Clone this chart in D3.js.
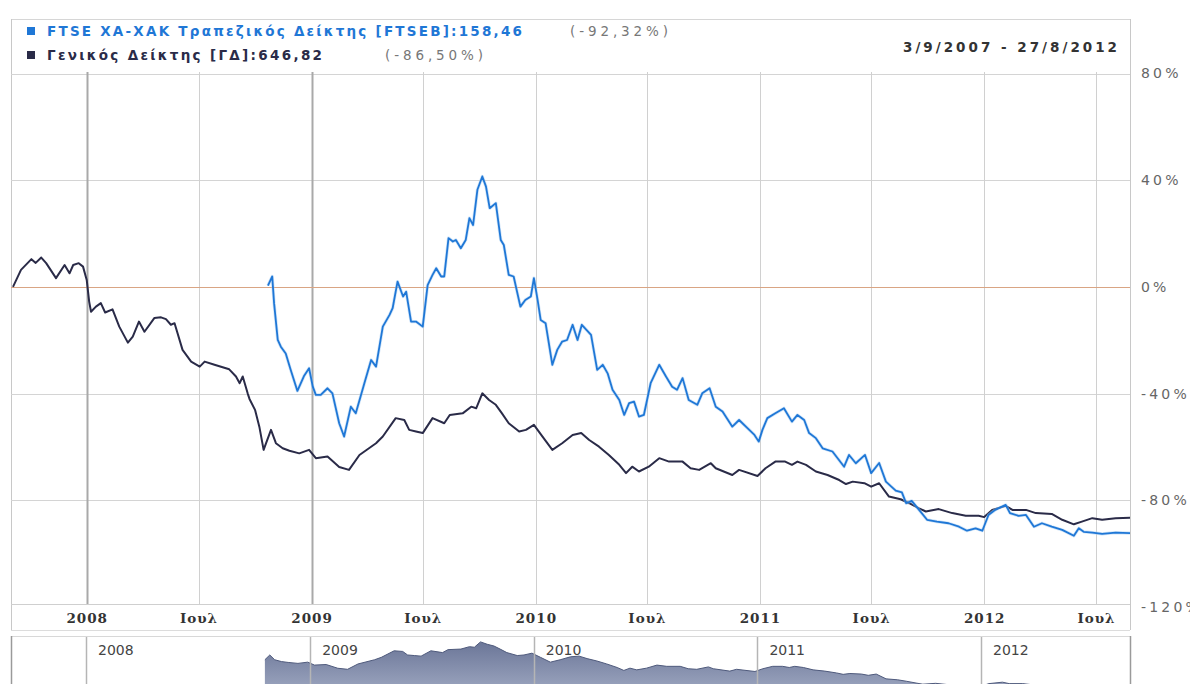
<!DOCTYPE html>
<html><head><meta charset="utf-8">
<script src="https://cdn.jsdelivr.net/npm/d3@7"></script>
<style>body{margin:0;background:#fff;overflow:hidden} svg{display:block}</style>
</head><body>
<svg id="c" width="1190" height="684"></svg>
<script>
// ---------------- DATA ----------------
const gdDates = ["2007-09-03","2007-09-16","2007-10-03","2007-10-10","2007-10-19","2007-10-27","2007-11-12","2007-11-26","2007-12-04","2007-12-10","2007-12-19","2007-12-26",
"2008-01-01","2008-01-05","2008-01-08","2008-01-16","2008-01-24","2008-01-31","2008-02-12","2008-02-23","2008-03-08","2008-03-16","2008-03-26","2008-04-04","2008-04-20","2008-05-01","2008-05-09","2008-05-17","2008-05-23","2008-06-05","2008-06-19","2008-07-03","2008-07-11","2008-07-27","2008-08-20","2008-08-31","2008-09-06","2008-09-11","2008-09-19","2008-09-22","2008-10-01","2008-10-08","2008-10-15","2008-10-19","2008-10-27","2008-11-04","2008-11-15","2008-11-26","2008-12-12","2008-12-28",
"2009-01-08","2009-01-27","2009-02-15","2009-03-03","2009-03-20","2009-04-16","2009-04-27","2009-05-18","2009-06-01","2009-06-09","2009-06-20","2009-07-01","2009-07-17","2009-08-05","2009-08-14","2009-09-04","2009-09-18","2009-09-26","2009-10-06","2009-10-17","2009-10-28","2009-11-07","2009-11-18","2009-12-05","2009-12-16","2009-12-29",
"2010-01-12","2010-01-28","2010-02-13","2010-03-02","2010-03-16","2010-03-29","2010-04-14","2010-04-30","2010-05-17","2010-05-28","2010-06-07","2010-06-18","2010-07-04","2010-07-21","2010-08-06","2010-08-28","2010-09-10","2010-09-24","2010-10-13","2010-10-21","2010-11-17","2010-11-28","2010-12-28",
"2011-01-10","2011-01-26","2011-02-11","2011-02-22","2011-03-03","2011-03-17","2011-04-02","2011-04-21","2011-05-10","2011-05-21","2011-06-01","2011-06-20","2011-07-01","2011-07-14","2011-07-30","2011-08-18","2011-09-01","2011-09-17","2011-09-28","2011-10-19","2011-11-10","2011-12-02","2011-12-23",
"2012-01-01","2012-01-14","2012-02-05","2012-02-16","2012-03-09","2012-03-25","2012-04-20","2012-05-07","2012-05-26","2012-06-08","2012-06-25","2012-07-11","2012-08-02","2012-08-27"];
const gdValues = [0,6.4,10.4,9,11,8.9,3.3,8.2,5.1,8.2,8.9,7.6,
2.6,-5.5,-9.3,-7.4,-6.1,-9.6,-8.4,-14.9,-20.9,-18.6,-13,-16.8,-11.7,-11.4,-12.1,-14.2,-13.6,-23.6,-28,-29.9,-28,-29.2,-30.9,-33.6,-36.1,-33.6,-39.9,-42,-46.1,-52.4,-61.1,-58.6,-53.6,-58.6,-60.5,-61.4,-62.4,-61.1,
-64.2,-63.6,-67.5,-68.6,-63,-58.6,-56.1,-49.2,-49.9,-53.6,-54.2,-54.8,-49.2,-51.1,-48,-47.4,-44.9,-45.5,-39.9,-42.4,-44.2,-47.4,-51.1,-54.2,-53.6,-51.7,
-56.1,-61.1,-58.6,-55.5,-54.8,-57.4,-59.9,-63,-66.7,-69.8,-67.4,-69.2,-67.4,-64.2,-65.5,-65.5,-68,-68.6,-66.1,-68,-70.5,-68.6,-70.9,
-68,-65.5,-65.5,-66.7,-65.5,-66.7,-69.2,-70.5,-72.4,-73.9,-73,-73.6,-74.9,-73.6,-78.6,-79.6,-81.1,-83,-84.2,-83.3,-84.8,-85.8,-85.8,
-86.3,-83.6,-82.1,-83.6,-83.6,-84.8,-85.1,-87.3,-89,-88,-86.7,-87.3,-86.7,-86.5];

const ftsebDates = ["2008-10-22","2008-10-29","2008-11-01","2008-11-07","2008-11-12","2008-11-20","2008-11-28","2008-12-09","2008-12-20","2008-12-28",
"2009-01-03","2009-01-08","2009-01-16","2009-01-27","2009-02-04","2009-02-15","2009-02-23","2009-03-06","2009-03-14","2009-03-28","2009-04-08","2009-04-16","2009-04-27","2009-05-08","2009-05-13","2009-05-21","2009-05-30","2009-06-04","2009-06-12","2009-06-20","2009-07-01","2009-07-09","2009-07-17","2009-07-23","2009-07-31","2009-08-05","2009-08-12","2009-08-19","2009-08-24","2009-09-01","2009-09-09","2009-09-15","2009-09-21","2009-09-28","2009-10-06","2009-10-12","2009-10-18","2009-10-28","2009-11-05","2009-11-10","2009-11-18","2009-11-26","2009-12-07","2009-12-15","2009-12-24","2009-12-29",
"2010-01-04","2010-01-09","2010-01-17","2010-01-28","2010-02-05","2010-02-13","2010-02-21","2010-03-02","2010-03-10","2010-03-17","2010-04-01","2010-04-11","2010-04-20","2010-04-28","2010-05-06","2010-05-17","2010-05-25","2010-06-02","2010-06-10","2010-06-18","2010-06-26","2010-07-07","2010-07-21","2010-08-01","2010-08-11","2010-08-19","2010-08-28","2010-09-07","2010-09-21","2010-09-29","2010-10-11","2010-10-21","2010-11-01","2010-11-17","2010-11-28","2010-12-12","2010-12-23","2010-12-30",
"2011-01-05","2011-01-13","2011-01-26","2011-02-09","2011-02-22","2011-03-03","2011-03-14","2011-03-22","2011-04-02","2011-04-13","2011-04-29","2011-05-18","2011-05-26","2011-06-06","2011-06-21","2011-07-01","2011-07-14","2011-07-25","2011-08-10","2011-08-20","2011-08-27","2011-09-05","2011-09-17","2011-09-30","2011-10-16","2011-11-04","2011-11-21","2011-12-04","2011-12-18","2011-12-29",
"2012-01-08","2012-01-19","2012-02-05","2012-02-12","2012-02-26","2012-03-09","2012-03-22","2012-04-04","2012-04-20","2012-05-07","2012-05-26","2012-06-03","2012-06-11","2012-06-25","2012-07-11","2012-08-02","2012-08-27"];
const ftsebValues = [0.5,3.9,-6.1,-19.9,-22.4,-25,-31.1,-39,-33.3,-30.5,
-37.4,-40.5,-40.5,-38,-39.9,-51.1,-56.1,-44.9,-47.4,-36.1,-27.4,-29.9,-14.9,-10.5,-8,2,-3.6,-1.8,-13,-13,-14.9,0.7,4.5,7,3.9,3.9,18.3,17,17.6,14.5,17.6,25.8,23.2,36.4,41.4,37.6,29.5,31.4,17.6,15.7,4.5,3.9,-7.4,-4.9,-3.6,3.3,
-4.9,-12.4,-13.6,-29.2,-23.6,-20.5,-19.9,-14.2,-19.9,-14.2,-18,-31.1,-29.2,-32.4,-38.6,-42.4,-48,-43.6,-43,-48.6,-48,-36.1,-29.2,-33.6,-37.4,-38.6,-34.2,-42.4,-44.2,-39.9,-38,-44.9,-46.7,-52.4,-49.9,-53,-55.5,-58,
-53.6,-49.2,-47.4,-45.5,-50.5,-48,-49.9,-54.8,-56.7,-60.5,-61.7,-67.4,-63,-66.1,-63,-69.8,-66,-73,-76.4,-77,-81.1,-80.2,-83.6,-87.3,-88,-88.6,-89.9,-91.4,-90.5,-91.4,
-85.5,-83.6,-81.7,-84.8,-85.8,-85.5,-89.9,-88.6,-89.9,-91.1,-93.3,-90.5,-91.8,-92.1,-92.6,-92.1,-92.3];

const yTicks = [80, 40, 0, -40, -80, -120];
const yTickLabels = ["80%", "40%", "0%", "-40%", "-80%", "-120%"];
const xTickDates = ["2008-01-01","2008-07-01","2009-01-01","2009-07-01","2010-01-01","2010-07-01","2011-01-01","2011-07-01","2012-01-01","2012-07-01"];
const xTickLabels = ["2008","Ιουλ","2009","Ιουλ","2010","Ιουλ","2011","Ιουλ","2012","Ιουλ"];
const navYearDates = ["2008-01-01","2009-01-01","2010-01-01","2011-01-01","2012-01-01"];
const navYearLabels = ["2008","2009","2010","2011","2012"];
const legendNames = ["FTSE ΧΑ-ΧΑΚ Τραπεζικός Δείκτης [FTSEB]:158,46", "Γενικός Δείκτης [ΓΔ]:646,82"];
const legendChanges = ["(-92,32%)", "(-86,50%)"];
const legendColors = ["#1f77d6", "#2a2b48"];
const dateRangeLabel = "3/9/2007 - 27/8/2012";
const rangeStart = "2007-09-03", rangeEnd = "2012-08-27";

// ---------------- CHART ----------------
const parse = d3.timeParse("%Y-%m-%d");
const svg = d3.select("#c");
const L = 11, R = 1130, T = 72, B = 604;

const x = d3.scaleTime().domain([parse(rangeStart), parse(rangeEnd)]).range([13, 1131]);
const y = d3.scaleLinear().domain([-120, 80]).range([607, 73.5]);
const xn = d3.scaleTime().domain([parse(rangeStart), parse(rangeEnd)]).range([12.5, 1127.4]);
const yn = d3.scaleLinear().domain([-40, -84]).range([642, 684]);

const gd = gdDates.map((d, i) => ({date: parse(d), v: gdValues[i]}));
const fb = ftsebDates.map((d, i) => ({date: parse(d), v: ftsebValues[i]}));

svg.append("defs").append("clipPath").attr("id", "plotclip")
  .append("rect").attr("x", L).attr("y", T).attr("width", R - L).attr("height", B - T);

// outer frame
svg.append("line").attr("x1", L).attr("x2", R).attr("y1", 19.5).attr("y2", 19.5).attr("stroke", "#d6d6d6");
svg.append("line").attr("x1", L + 0.5).attr("x2", L + 0.5).attr("y1", 19).attr("y2", 630).attr("stroke", "#c8c8c8");
svg.append("line").attr("x1", R + 0.5).attr("x2", R + 0.5).attr("y1", 19).attr("y2", 630).attr("stroke", "#c8c8c8");

// horizontal grid
svg.append("g").selectAll("line").data(yTicks.filter(v => v !== 0 && v !== -120)).join("line")
  .attr("x1", L).attr("x2", R).attr("y1", d => Math.round(y(d)) + 0.5).attr("y2", d => Math.round(y(d)) + 0.5)
  .attr("stroke", "#d4d4d4");

// vertical grid
const xTicks = xTickDates.map(parse);
svg.append("g").selectAll("line").data(xTicks).join("line")
  .attr("x1", d => Math.round(x(d)) + 0.5).attr("x2", d => Math.round(x(d)) + 0.5)
  .attr("y1", T).attr("y2", B)
  .attr("stroke", (d, i) => (i === 0 || i === 2) ? "#a9a9a9" : "#d0d0d0")
  .attr("stroke-width", (d, i) => (i === 0 || i === 2) ? 2 : 1);

// zero line
svg.append("line").attr("x1", L).attr("x2", R).attr("y1", Math.round(y(0)) + 0.5).attr("y2", Math.round(y(0)) + 0.5)
  .attr("stroke", "#d9a584").attr("stroke-width", 1.2);

// lines
const line = d3.line().x(d => x(d.date)).y(d => y(d.v));
const pg = svg.append("g").attr("clip-path", "url(#plotclip)");
pg.append("path").datum(gd).attr("d", line).attr("fill", "none").attr("stroke", "#2a2b48").attr("stroke-width", 2).attr("stroke-linejoin", "round");
pg.append("path").datum(fb).attr("d", line).attr("fill", "none").attr("stroke", "#9fcaf2").attr("stroke-width", 3.2).attr("stroke-opacity", 0.5).attr("stroke-linejoin", "round");
pg.append("path").datum(fb).attr("d", line).attr("fill", "none").attr("stroke", "#1f77d6").attr("stroke-width", 1.8).attr("stroke-linejoin", "round");

// x axis band
svg.append("line").attr("x1", L).attr("x2", R).attr("y1", B + 0.5).attr("y2", B + 0.5).attr("stroke", "#cfcfcf");
svg.append("line").attr("x1", L).attr("x2", R).attr("y1", 630.5).attr("y2", 630.5).attr("stroke", "#dcdcdc");
const xAxis = d3.axisBottom(x).tickValues(xTicks).tickSize(0).tickPadding(9)
  .tickFormat((d, i) => xTickLabels[i]);
const xg = svg.append("g").attr("transform", `translate(0,${B})`).call(xAxis);
xg.select(".domain").remove();
xg.selectAll("text").attr("font-family", "'DejaVu Serif', serif").attr("font-weight", "bold")
  .attr("font-size", 13.5).attr("fill", "#333").attr("letter-spacing", 1);

// y axis labels (right)
const yAxis = d3.axisRight(y).tickValues(yTicks).tickSize(0).tickPadding(0)
  .tickFormat((d, i) => yTickLabels[i]);
const yg = svg.append("g").attr("transform", `translate(1141,0)`).call(yAxis);
yg.select(".domain").remove();
yg.selectAll("text").attr("font-family", "'DejaVu Sans', sans-serif").attr("font-size", 14)
  .attr("fill", "#666").attr("letter-spacing", 3.2);

// legend
const lg = svg.append("g");
const legY = [36, 60];
const nameW = [475, 275];
const chgX = [570, 385];
legendNames.forEach((n, i) => {
  lg.append("rect").attr("x", 27).attr("y", legY[i] - 9).attr("width", 8).attr("height", 8).attr("fill", legendColors[i]);
  lg.append("text").attr("x", 47).attr("y", legY[i]).text(n)
    .attr("font-family", "'DejaVu Sans', Verdana, sans-serif").attr("font-weight", "bold").attr("font-size", 13.5)
    .attr("fill", legendColors[i]).attr("textLength", nameW[i]).attr("lengthAdjust", "spacing");
  lg.append("text").attr("x", chgX[i]).attr("y", legY[i]).text(legendChanges[i])
    .attr("font-family", "'DejaVu Sans', Verdana, sans-serif").attr("font-size", 13.5)
    .attr("fill", "#777").attr("textLength", 98).attr("lengthAdjust", "spacing");
});
svg.append("text").attr("x", 903).attr("y", 52).text(dateRangeLabel)
  .attr("font-family", "'DejaVu Sans', Verdana, sans-serif").attr("font-weight", "bold").attr("font-size", 13.5)
  .attr("fill", "#333").attr("textLength", 214).attr("lengthAdjust", "spacing");

// navigator
const ng = svg.append("g");
ng.append("line").attr("x1", L).attr("x2", R).attr("y1", 636.5).attr("y2", 636.5).attr("stroke", "#d8d8d8");
ng.append("line").attr("x1", L + 0.5).attr("x2", L + 0.5).attr("y1", 636).attr("y2", 684).attr("stroke", "#9a9a9a").attr("stroke-width", 1.5);
ng.append("line").attr("x1", R + 0.5).attr("x2", R + 0.5).attr("y1", 636).attr("y2", 684).attr("stroke", "#9a9a9a").attr("stroke-width", 1.5);
const grad = svg.select("defs").append("linearGradient").attr("id", "navgrad").attr("x1", 0).attr("x2", 0).attr("y1", 0).attr("y2", 1);
grad.append("stop").attr("offset", "0%").attr("stop-color", "#6b7698");
grad.append("stop").attr("offset", "100%").attr("stop-color", "#a5aec6");
const navStart = parse(ftsebDates[0]);
const navData = gd.filter(d => d.date >= d3.timeDay.offset(navStart, -3));
const area = d3.area().x(d => xn(d.date)).y0(700).y1(d => yn(d.v));
ng.append("path").datum(navData).attr("d", area).attr("fill", "url(#navgrad)");
ng.append("path").datum(navData).attr("d", d3.line().x(d => xn(d.date)).y(d => yn(d.v)))
  .attr("fill", "none").attr("stroke", "#4f5a7c").attr("stroke-width", 1);
const navTicks = navYearDates.map(parse);
ng.selectAll("line.ny").data(navTicks).join("line").attr("class", "ny")
  .attr("x1", d => Math.round(xn(d)) + 0.5).attr("x2", d => Math.round(xn(d)) + 0.5)
  .attr("y1", 637).attr("y2", 684).attr("stroke", "#b5b5b5").attr("stroke-width", 1.5);
ng.selectAll("text.ny").data(navTicks).join("text").attr("class", "ny")
  .attr("x", d => xn(d) + 12).attr("y", 655).text((d, i) => navYearLabels[i])
  .attr("font-family", "'DejaVu Sans', Verdana, sans-serif").attr("font-size", 14).attr("fill", "#444");
</script>
</body></html>
